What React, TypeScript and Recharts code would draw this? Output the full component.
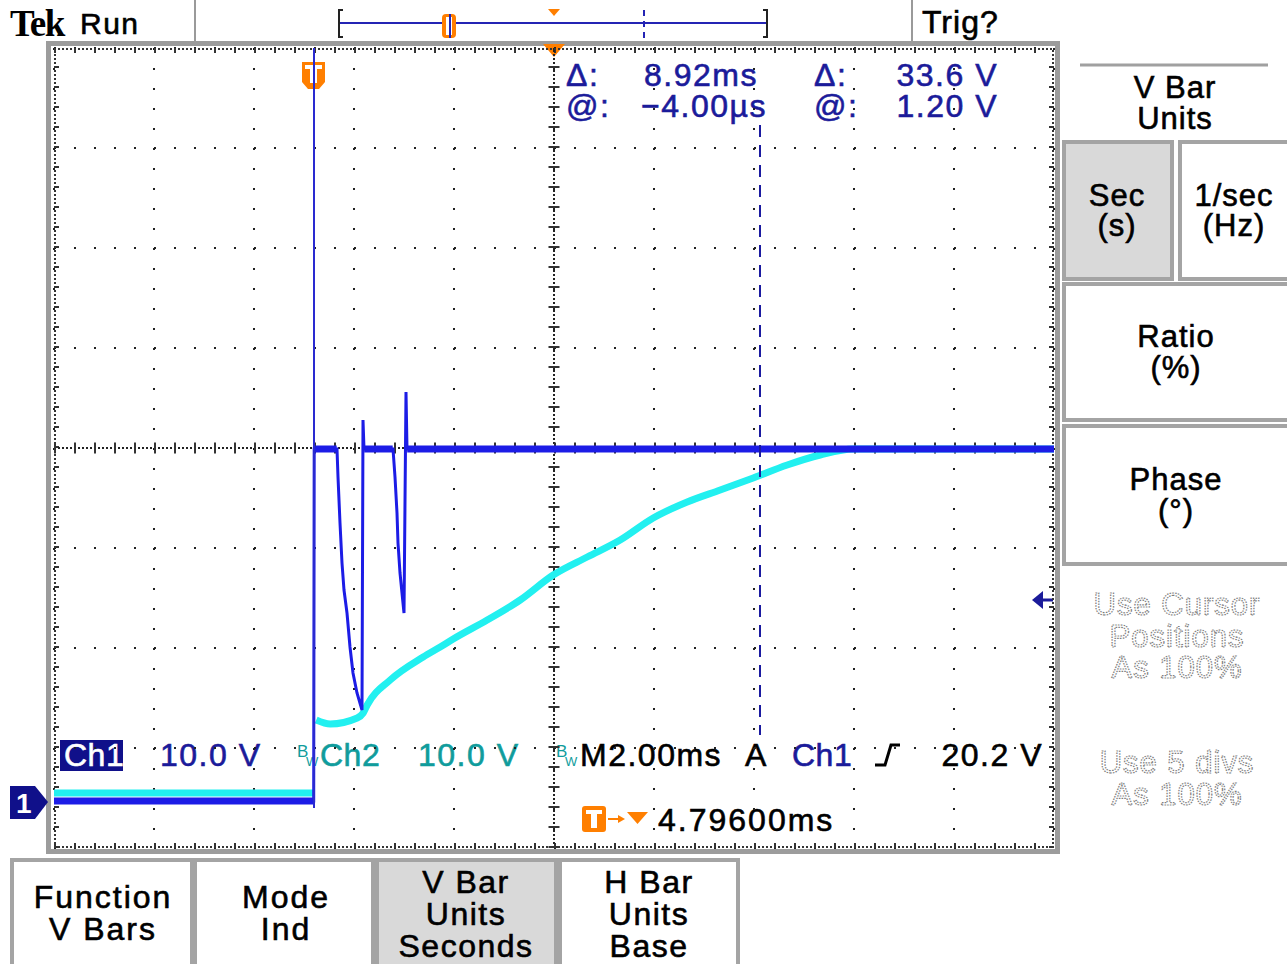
import React from 'react';
import { LineChart, Line, XAxis, YAxis, CartesianGrid, ReferenceLine } from 'recharts';

// scope settings: 2 ms/div, 10 V/div, trigger offset 4.796 ms
const T_MIN = -5.204;
const T_MAX = 14.796;
const V_MIN = -4.8;
const V_MAX = 75.2;
const T_CENTER = 4.796;
const V_CENTER = 35.2;

const timeGrid = [-3.204, -1.204, 0.796, 2.796, 4.796, 6.796, 8.796, 10.796, 12.796];
const voltGrid = [5.2, 15.2, 25.2, 35.2, 45.2, 55.2, 65.2];

// Ch1 (blue): [time ms, volts]
const ch1Trace: [number, number][] = [
  [-5.204, -0.1], [-0.01, -0.1], [0.0, 35.1], [0.456, 35.1], [0.476, 32.3], [0.516, 27.7],
  [0.556, 23.7], [0.596, 21.0], [0.656, 18.7], [0.716, 15.3], [0.776, 12.7], [0.856, 10.7],
  [0.956, 9.0], [0.976, 38.0], [0.996, 35.1], [1.576, 35.1], [1.616, 32.3], [1.656, 28.7],
  [1.676, 25.7], [1.716, 22.7], [1.756, 20.7], [1.796, 18.7], [1.836, 40.8], [1.856, 35.1],
  [14.796, 35.1],
];
const ch1Low: [number, number][] = [[-5.204, -0.1], [-0.01, -0.1]];
const ch1HighA: [number, number][] = [[0.02, 35.1], [0.45, 35.1]];
const ch1HighB: [number, number][] = [[1.0, 35.1], [1.57, 35.1]];
const ch1HighC: [number, number][] = [[1.86, 35.1], [14.796, 35.1]];

// Ch2 (cyan)
const ch2Low: [number, number][] = [[-5.204, 0.7], [-0.01, 0.7]];
const ch2Curve: [number, number][] = [
  [0.04, 8.0], [0.32, 7.6], [0.86, 8.2], [0.98, 8.7], [1.06, 9.5], [1.52, 12.0], [2.18, 14.3],
  [2.52, 15.3], [2.78, 16.1], [3.46, 18.0], [4.12, 20.0], [4.78, 22.5], [5.46, 24.3],
  [6.12, 26.0], [6.78, 28.2], [7.46, 29.8], [8.12, 31.0], [8.78, 32.2], [9.46, 33.5],
  [10.12, 34.5], [10.78, 35.1], [14.796, 35.1],
];

const cursor1 = -0.004;
const cursor2 = 8.916;

const pts = (a: [number, number][]) => a.map(([t, v]) => ({ t, v }));

const BLUE = '#1c1ce6';
const CYAN = '#22f0f0';
const NAVY = '#1b1b9a';
const TEAL = '#109c9c';
const ORANGE = '#ff7f00';
const FONT = "'Liberation Sans', Arial, sans-serif";

function Txt({ x, y, children, size = 32, color = '#000', anchor = 'start', ls = 1.5 }: any) {
  return (
    <text x={x} y={y} fontSize={size} fill={color} stroke={color} strokeWidth={0.6} textAnchor={anchor}
      fontFamily={FONT} style={{ letterSpacing: `${ls}px` }}>
      {children}
    </text>
  );
}

function Ghost({ x, y, children }: any) {
  return (
    <text x={x} y={y} fontSize={31} fill="none" stroke="#7c7c7c" strokeWidth={1.2} strokeDasharray="1.5 1.2"
      textAnchor="middle" fontFamily={FONT} style={{ letterSpacing: '1px' }}>
      {children}
    </text>
  );
}

function Bw({ x }: { x: number }) {
  return (
    <g fill={TEAL} fontFamily={FONT}>
      <text x={x} y={757} fontSize={17}>B</text>
      <text x={x + 9} y={766} fontSize={13}>W</text>
    </g>
  );
}

function Screen() {
  return (
    <svg width={1287} height={964} style={{ position: 'absolute', left: 0, top: 0 }}>
      {/* top bar */}
      <text x={10} y={36} fontSize={37} fontWeight="bold" fontFamily="'Liberation Serif', serif" style={{ letterSpacing: '-1.5px' }}>Tek</text>
      <Txt x={80} y={34} size={30} ls={1.5}>Run</Txt>
      <Txt x={922} y={33} ls={1}>Trig?</Txt>
      <line x1={195} y1={0} x2={195} y2={42} stroke="#9a9a9a" strokeWidth={2} />
      <line x1={912} y1={0} x2={912} y2={42} stroke="#9a9a9a" strokeWidth={2} />
      <path d="M343,10 H339 V37 H343" fill="none" stroke="#222" strokeWidth={2} />
      <path d="M763,10 H767 V37 H763" fill="none" stroke="#222" strokeWidth={2} />
      <line x1={340} y1={23} x2={766} y2={23} stroke="#2424b4" strokeWidth={2} />
      <line x1={644} y1={10} x2={644} y2={38} stroke="#2424b4" strokeWidth={2} strokeDasharray="6 5" />
      <rect x={442} y={14} width={14} height={24} rx={4} fill={ORANGE} />
      <rect x={446} y={17} width={6} height={18} fill="#fff" />
      <line x1={450} y1={14} x2={450} y2={38} stroke="#2424b4" strokeWidth={2} />
      <path d="M548,9 L560,9 L554,16 Z" fill={ORANGE} />

      {/* graticule frame */}
      <rect x={48.5} y={43.5} width={1009} height={808} fill="none" stroke="#9c9c9c" strokeWidth={5} />
      <path d="M543,44 L565,44 L554,57 Z" fill={ORANGE} />

      {/* trigger marker */}
      <path d="M302,62 H325 V82 L319,89 H308 L302,82 Z" fill={ORANGE} />
      <rect x={305} y={65} width={17} height={4} fill="#fff" />
      <rect x={310} y={65} width={7} height={18} fill="#fff" />

      {/* top readouts */}
      <Txt x={566} y={86} color={NAVY}>Δ:</Txt>
      <Txt x={758} y={86} color={NAVY} anchor="end">8.92ms</Txt>
      <Txt x={814} y={86} color={NAVY}>Δ:</Txt>
      <Txt x={998} y={86} color={NAVY} anchor="end">33.6 V</Txt>
      <Txt x={566} y={117} color={NAVY}>@:</Txt>
      <Txt x={767} y={117} color={NAVY} anchor="end">−4.00µs</Txt>
      <Txt x={814} y={117} color={NAVY}>@:</Txt>
      <Txt x={998} y={117} color={NAVY} anchor="end">1.20 V</Txt>

      {/* bottom readouts */}
      <rect x={60} y={740} width={63} height={31} fill="#10108a" />
      <Txt x={64} y={766} color="#fff" ls={0.5}>Ch1</Txt>
      <Txt x={160} y={766} color={NAVY}>10.0 V</Txt>
      <Bw x={297} />
      <Txt x={320} y={766} color={TEAL} ls={0.5}>Ch2</Txt>
      <Txt x={418} y={766} color={TEAL}>10.0 V</Txt>
      <Bw x={556} />
      <Txt x={580} y={766}>M2.00ms</Txt>
      <Txt x={745} y={766}>A</Txt>
      <Txt x={792} y={766} color={NAVY} ls={0.5}>Ch1</Txt>
      <polyline points="875,765 885,765 891,745 900,745" fill="none" stroke="#000" strokeWidth={3} />
      <Txt x={1043} y={766} anchor="end">20.2 V</Txt>
      <rect x={582} y={806} width={24} height={26} rx={3} fill={ORANGE} />
      <rect x={586} y={810} width={16} height={4} fill="#fff" />
      <rect x={591} y={810} width={6} height={18} fill="#fff" />
      <line x1={608} y1={819} x2={620} y2={819} stroke={ORANGE} strokeWidth={2} />
      <path d="M618,815 L625,819 L618,823 Z" fill={ORANGE} />
      <path d="M627,812 L648,812 L637.5,824 Z" fill={ORANGE} />
      <Txt x={658} y={831} ls={2}>4.79600ms</Txt>

      {/* ch1 ground marker */}
      <path d="M10,786 H35 L48,802 L35,819 H10 Z" fill="#10108a" />
      <text x={16} y={813} fontSize={28} fontWeight="bold" fill="#fff" fontFamily={FONT}>1</text>

      {/* level arrow */}
      <line x1={1040} y1={600} x2={1053} y2={600} stroke={NAVY} strokeWidth={3} />
      <path d="M1032,600 L1043,591 L1043,609 Z" fill={NAVY} />

      {/* right panel */}
      <line x1={1080} y1={65} x2={1268} y2={65} stroke="#a0a0a0" strokeWidth={3} />
      <Txt x={1175} y={98} size={31} anchor="middle" ls={1}>V Bar</Txt>
      <Txt x={1175} y={129} size={31} anchor="middle" ls={1}>Units</Txt>
      <rect x={1064} y={142} width={108} height={137} fill="#d9d9d9" stroke="#a4a4a4" strokeWidth={4} />
      <rect x={1180} y={142} width={109} height={137} fill="#fff" stroke="#a4a4a4" strokeWidth={4} />
      <Txt x={1117} y={206} size={31} anchor="middle" ls={1}>Sec</Txt>
      <Txt x={1117} y={236} size={31} anchor="middle" ls={1}>(s)</Txt>
      <Txt x={1234} y={206} size={31} anchor="middle" ls={1}>1/sec</Txt>
      <Txt x={1234} y={236} size={31} anchor="middle" ls={1}>(Hz)</Txt>
      <rect x={1064} y={284} width={225} height={136} fill="#fff" stroke="#a4a4a4" strokeWidth={4} />
      <Txt x={1176} y={347} size={31} anchor="middle" ls={1}>Ratio</Txt>
      <Txt x={1176} y={378} size={31} anchor="middle" ls={1}>(%)</Txt>
      <rect x={1064} y={426} width={225} height={138} fill="#fff" stroke="#a4a4a4" strokeWidth={4} />
      <Txt x={1176} y={490} size={31} anchor="middle" ls={1}>Phase</Txt>
      <Txt x={1176} y={521} size={31} anchor="middle" ls={1}>(°)</Txt>
      <Ghost x={1177} y={615}>Use Cursor</Ghost>
      <Ghost x={1177} y={647}>Positions</Ghost>
      <Ghost x={1177} y={678}>As 100%</Ghost>
      <Ghost x={1177} y={773}>Use 5 divs</Ghost>
      <Ghost x={1177} y={805}>As 100%</Ghost>

      {/* bottom buttons */}
      <rect x={12} y={860} width={180} height={110} fill="#fff" stroke="#a4a4a4" strokeWidth={4} />
      <rect x={195} y={860} width={178} height={110} fill="#fff" stroke="#a4a4a4" strokeWidth={4} />
      <rect x={377} y={860} width={179} height={110} fill="#d9d9d9" stroke="#a4a4a4" strokeWidth={4} />
      <rect x={560} y={860} width={178} height={110} fill="#fff" stroke="#a4a4a4" strokeWidth={4} />
      <Txt x={103} y={908} size={32} anchor="middle" ls={2}>Function</Txt>
      <Txt x={103} y={940} size={32} anchor="middle" ls={2}>V Bars</Txt>
      <Txt x={286} y={908} size={32} anchor="middle" ls={2}>Mode</Txt>
      <Txt x={286} y={940} size={32} anchor="middle" ls={2}>Ind</Txt>
      <Txt x={466} y={893} size={32} anchor="middle" ls={1.5}>V Bar</Txt>
      <Txt x={466} y={925} size={32} anchor="middle" ls={1.5}>Units</Txt>
      <Txt x={466} y={957} size={32} anchor="middle" ls={1.5}>Seconds</Txt>
      <Txt x={649} y={893} size={32} anchor="middle" ls={1.5}>H Bar</Txt>
      <Txt x={649} y={925} size={32} anchor="middle" ls={1.5}>Units</Txt>
      <Txt x={649} y={957} size={32} anchor="middle" ls={1.5}>Base</Txt>
    </svg>
  );
}

export default function App() {
  const common = { dataKey: 'v', dot: false, activeDot: false, isAnimationActive: false };
  return (
    <div style={{ position: 'absolute', left: 0, top: 0, width: 1287, height: 964, background: '#fff', overflow: 'hidden' }}>
      <Screen />
      <div style={{ position: 'absolute', left: 44, top: 38 }}>
        <LineChart width={1020} height={820} margin={{ top: 10, right: 10, bottom: 10, left: 10 }}>
          <XAxis type="number" dataKey="t" domain={[T_MIN, T_MAX]} ticks={timeGrid} hide allowDataOverflow />
          <YAxis type="number" dataKey="v" domain={[V_MIN, V_MAX]} ticks={voltGrid} hide allowDataOverflow />
          <CartesianGrid stroke="#222" strokeWidth={2} strokeDasharray="2 18" />

          {/* frame ticks */}
          <ReferenceLine y={V_MAX - 0.1} stroke="#333" strokeWidth={2} strokeDasharray="2 2" ifOverflow="visible" />
          <ReferenceLine y={V_MIN + 0.1} stroke="#333" strokeWidth={2} strokeDasharray="2 2" ifOverflow="visible" />
          <ReferenceLine x={T_MIN + 0.02} stroke="#333" strokeWidth={2} strokeDasharray="2 2" ifOverflow="visible" />
          <ReferenceLine x={T_MAX - 0.02} stroke="#333" strokeWidth={2} strokeDasharray="2 2" ifOverflow="visible" />
          <ReferenceLine y={V_MAX - 0.25} stroke="#333" strokeWidth={5} strokeDasharray="2 18" ifOverflow="visible" />
          <ReferenceLine y={V_MIN + 0.25} stroke="#333" strokeWidth={5} strokeDasharray="2 18" ifOverflow="visible" />
          <ReferenceLine x={T_MIN + 0.05} stroke="#333" strokeWidth={5} strokeDasharray="2 18" ifOverflow="visible" />
          <ReferenceLine x={T_MAX - 0.05} stroke="#333" strokeWidth={5} strokeDasharray="2 18" ifOverflow="visible" />

          {/* centre axes */}
          <ReferenceLine x={T_CENTER} stroke="#222" strokeWidth={2} strokeDasharray="2 2" />
          <ReferenceLine y={V_CENTER} stroke="#222" strokeWidth={2} strokeDasharray="2 2" />
          <ReferenceLine x={T_CENTER} stroke="#333" strokeWidth={11} strokeDasharray="2 18" />
          <ReferenceLine y={V_CENTER} stroke="#333" strokeWidth={11} strokeDasharray="2 18" />

          <Line {...common} type="linear" data={pts(ch2Low)} stroke={CYAN} strokeWidth={7} />
          <Line {...common} type="monotone" data={pts(ch2Curve)} stroke={CYAN} strokeWidth={7} />
          <Line {...common} type="linear" data={pts(ch1Trace)} stroke={BLUE} strokeWidth={3} />
          <Line {...common} type="linear" data={pts(ch1Low)} stroke={BLUE} strokeWidth={7} />
          <Line {...common} type="linear" data={pts(ch1HighA)} stroke={BLUE} strokeWidth={7} />
          <Line {...common} type="linear" data={pts(ch1HighB)} stroke={BLUE} strokeWidth={7} />
          <Line {...common} type="linear" data={pts(ch1HighC)} stroke={BLUE} strokeWidth={7} />

          <ReferenceLine segment={[{ x: cursor1, y: V_MAX }, { x: cursor1, y: -0.8 }]} stroke="#2a2ad0" strokeWidth={2} ifOverflow="visible" />
          <ReferenceLine segment={[{ x: cursor2, y: 67.5 }, { x: cursor2, y: 6.5 }]} stroke="#1a1aa0" strokeWidth={2} strokeDasharray="12 8" ifOverflow="visible" />
        </LineChart>
      </div>
    </div>
  );
}
